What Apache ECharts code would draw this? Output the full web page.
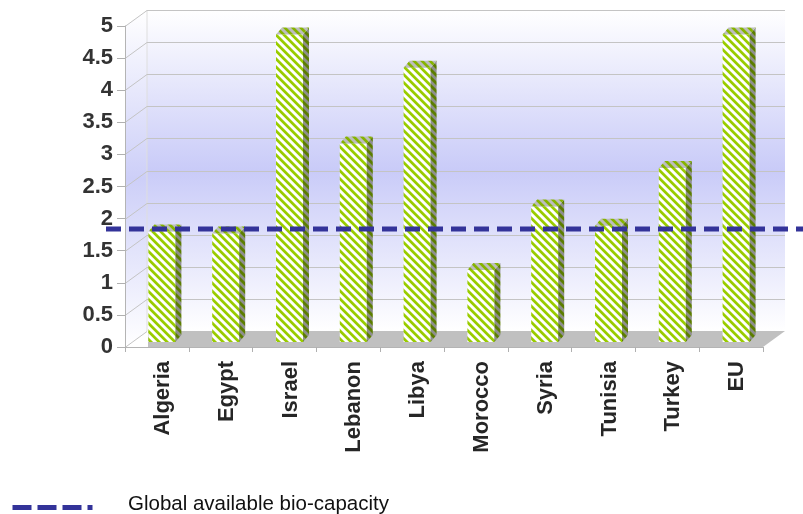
<!DOCTYPE html>
<html>
<head>
<meta charset="utf-8">
<script src="https://cdn.jsdelivr.net/npm/echarts@6/dist/echarts.min.js"></script>
<style>
  html, body { margin: 0; padding: 0; background: #ffffff; }
  #chart { width: 803px; height: 514px; }
</style>
</head>
<body>
<div id="chart"></div>
<script>
// Ecological footprint per person (gha) by country, with the global available bio-capacity
const countries = ['Algeria', 'Egypt', 'Israel', 'Lebanon', 'Libya', 'Morocco', 'Syria', 'Tunisia', 'Turkey', 'EU'];
const footprint = [1.72, 1.69, 4.79, 3.09, 4.27, 1.12, 2.11, 1.81, 2.71, 4.79];
const bioCapacity = [1.8];
const legendLabels = ['Global available bio-capacity'];
const yMin = 0;
const yMax = 5;
const yStep = 0.5;

// 3D look: back wall depth offset, bar placement inside the box
const DEPTH = [22, -16];
const BAR_SHIFT = 5;
const BAR_LIFT = -5;
const BAR_W = 27;
const BAR_SIDE = [6, -7];
const LINE_LIFT = -2.5;
const LABEL_SHIFT = 6;
const FONT = '"Liberation Sans", Arial, sans-serif';

// Diagonal stripe tiles used as bar textures
function stripeTile(colors) {
  const n = colors.length;
  const c = document.createElement('canvas');
  c.width = n; c.height = n;
  const ctx = c.getContext('2d');
  for (let y = 0; y < n; y++) {
    for (let x = 0; x < n; x++) {
      const k = (((x - y) % n) + n) % n;
      ctx.fillStyle = colors[k];
      ctx.fillRect(x, y, 1, 1);
    }
  }
  return { image: c, repeat: 'repeat' };
}
const frontFill = stripeTile(['#99cc00', '#99cc00', '#99cc00', '#c6e36a', '#ffffff', '#ffffff', '#ffffff', '#e0efae']);
const sideFill = stripeTile(['#5c7d00', '#5c7d00', '#5c7d00', '#74883e', '#8e8e8e', '#8e8e8e', '#8e8e8e', '#768a44']);
const topFill = stripeTile(['#86b300', '#86b300', '#86b300', '#a0b868', '#bdbdbd', '#bdbdbd', '#bdbdbd', '#a8b880']);

const wallGradient = new echarts.graphic.LinearGradient(0, 0, 0, 1, [
  { offset: 0, color: '#ffffff' },
  { offset: 0.5, color: '#c9cbf8' },
  { offset: 1, color: '#ffffff' }
]);
const sideGradient = new echarts.graphic.LinearGradient(0, 0, 0, 1, [
  { offset: 0, color: '#ffffff' },
  { offset: 0.5, color: '#cdcff8' },
  { offset: 1, color: '#ffffff' }
]);

// Walls, gridlines and floor of the box
function renderRoom(params, api) {
  const cs = params.coordSys;
  const yOf = v => api.coord([0, v])[1];
  const dx = DEPTH[0], dy = DEPTH[1];
  const left = cs.x, right = cs.x + cs.width;
  const y0 = yOf(yMin), yTop = yOf(yMax);
  const children = [];
  children.push({
    type: 'rect',
    shape: { x: left + dx, y: yTop + dy, width: cs.width, height: y0 - yTop },
    style: { fill: wallGradient }
  });
  children.push({
    type: 'polygon',
    shape: { points: [[left, yTop], [left + dx, yTop + dy], [left + dx, y0 + dy], [left, y0]] },
    style: { fill: sideGradient }
  });
  children.push({
    type: 'line',
    shape: { x1: left + dx, y1: yTop + dy, x2: left + dx, y2: y0 + dy },
    style: { stroke: '#dedede', lineWidth: 1 }
  });
  for (let v = yMin; v <= yMax + 1e-9; v += yStep) {
    const y = Math.round(yOf(v)) + 0.5;
    if (v > yMin) {
      children.push({
        type: 'line',
        shape: { x1: left + dx, y1: y + dy, x2: right + dx, y2: y + dy },
        style: { stroke: '#c4c4c4', lineWidth: 1 }
      });
    }
    children.push({
      type: 'line',
      shape: { x1: left, y1: y, x2: left + dx, y2: y + dy },
      style: { stroke: '#c4c4c4', lineWidth: 1 }
    });
  }
  children.push({
    type: 'polygon',
    shape: { points: [[left + dx + 1, y0 + dy], [right + dx, y0 + dy], [right, y0], [left + dx + 1, y0]] },
    style: { fill: '#c0c0c0' }
  });
  return { type: 'group', children: children };
}

// One textured box per country
function renderBar(params, api) {
  const i = api.value(0);
  const v = api.value(1);
  const base = api.coord([i, yMin]);
  const top = api.coord([i, v]);
  const cx = base[0] + BAR_SHIFT;
  const x0 = cx - BAR_W / 2, x1 = cx + BAR_W / 2;
  const yb = base[1] + BAR_LIFT, yt = top[1] + BAR_LIFT;
  const sx = BAR_SIDE[0], sy = BAR_SIDE[1];
  return {
    type: 'group',
    children: [
      { type: 'rect', shape: { x: x0, y: yt, width: BAR_W, height: yb - yt }, style: { fill: frontFill } },
      { type: 'polygon', shape: { points: [[x1, yt], [x1 + sx, yt + sy], [x1 + sx, yb + sy], [x1, yb]] }, style: { fill: sideFill } },
      { type: 'polygon', shape: { points: [[x0, yt], [x0 + sx, yt + sy], [x1 + sx, yt + sy], [x1, yt]] }, style: { fill: topFill } }
    ]
  };
}

// Dashed reference line across the whole chart
function renderCapacity(params, api) {
  const y = api.coord([0, api.value(1)])[1] + LINE_LIFT;
  return {
    type: 'line',
    shape: { x1: 106, y1: y, x2: 803, y2: y },
    style: { stroke: '#333399', lineWidth: 5, lineDash: [15, 8] }
  };
}

const GRID = { left: 125, right: 40, top: 26, bottom: 167 };

const chart = echarts.init(document.getElementById('chart'), null, { renderer: 'canvas' });
chart.setOption({
  animation: false,
  backgroundColor: '#ffffff',
  grid: [
    { left: GRID.left, right: GRID.right, top: GRID.top, bottom: GRID.bottom, containLabel: false },
    // same band layout, nudged right so the country names sit under the boxes
    { left: GRID.left + LABEL_SHIFT, right: GRID.right - LABEL_SHIFT, top: GRID.top, bottom: GRID.bottom, containLabel: false }
  ],
  xAxis: [
    {
      type: 'category',
      gridIndex: 0,
      data: countries,
      boundaryGap: true,
      z: 3,
      axisLine: { show: true, lineStyle: { color: '#b4b4b4', width: 1 } },
      axisTick: { show: true, length: 5, lineStyle: { color: '#b0b0b0' } },
      axisLabel: { show: false },
      splitLine: { show: false }
    },
    {
      type: 'category',
      gridIndex: 1,
      data: countries,
      boundaryGap: true,
      axisLine: { show: false },
      axisTick: { show: false },
      axisLabel: {
        interval: 0, rotate: 90, margin: 14,
        fontSize: 22, fontWeight: 'bold', color: '#262626', fontFamily: FONT
      },
      splitLine: { show: false }
    }
  ],
  yAxis: [
    {
      type: 'value',
      gridIndex: 0,
      min: yMin, max: yMax, interval: yStep,
      z: 3,
      axisLine: { show: true, lineStyle: { color: '#b4b4b4', width: 1 } },
      axisTick: { show: true, length: 8, lineStyle: { color: '#b0b0b0' } },
      axisLabel: { margin: 12, fontSize: 22, fontWeight: 'bold', color: '#333333', fontFamily: FONT },
      splitLine: { show: false }
    },
    {
      type: 'value',
      gridIndex: 1,
      min: yMin, max: yMax, interval: yStep,
      show: false
    }
  ],
  series: [
    { type: 'custom', name: 'box', z: 1, silent: true, renderItem: renderRoom, data: [[0, yMin]], encode: { x: 0, y: 1 } },
    { type: 'custom', name: 'footprint', z: 4, renderItem: renderBar, data: countries.map((c, i) => [i, footprint[i]]), encode: { x: 0, y: 1 } },
    { type: 'custom', name: legendLabels[0], z: 6, renderItem: renderCapacity, data: [[0, bioCapacity[0]]], encode: { x: 0, y: 1 } }
  ],
  graphic: [
    { type: 'line', left: 10, top: 505, shape: { x1: 0, y1: 0, x2: 80, y2: 0 }, style: { stroke: '#333399', lineWidth: 5, lineDash: [19, 6] } },
    { type: 'text', left: 128, top: 494, style: { text: legendLabels[0], font: '20.5px ' + FONT, fill: '#111111' } }
  ]
});
</script>
</body>
</html>
